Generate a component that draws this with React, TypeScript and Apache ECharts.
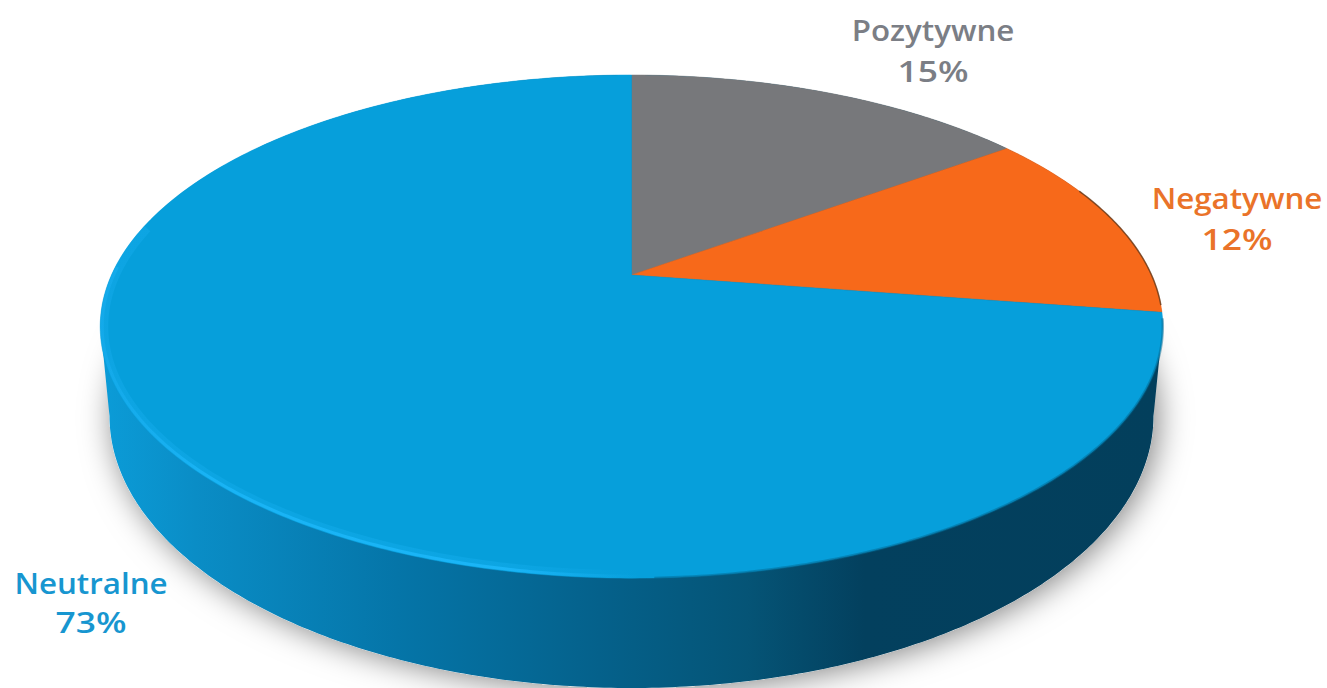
import React, { useEffect, useRef } from "react";
import * as echarts from "echarts";

const categories = ["Pozytywne", "Negatywne", "Neutralne"];
// shares estimated from the slice boundaries; the labels show them rounded
const values = [15, 12.4, 72.6];

const sliceColors = ["#77787b", "#f7691a", "#069fdb"];
const labelColors = ["#7b7e85", "#ea7329", "#1796d0"];
const labelCenters = [
  [933, 30, 70],
  [1237, 198, 238],
  [91, 583, 621],
];

// perspective projection of the pie's unit circle onto the page
const CX = 631.5;
const APEX_Y = 275;
const K = 0.205;
const SX = 520;
const SY = -241;
const project = (angle: number, r = 1): number[] => {
  const X = r * Math.sin(angle);
  const Y = r * Math.cos(angle);
  const d = 1 + K * Y;
  return [CX + (SX * X) / d, APEX_Y + (SY * Y) / d];
};
const arcPoints = (a0: number, a1: number, step = 0.01): number[][] => {
  const n = Math.max(2, Math.ceil(Math.abs(a1 - a0) / step));
  const pts: number[][] = [];
  for (let i = 0; i <= n; i++) pts.push(project(a0 + ((a1 - a0) * i) / n));
  return pts;
};
const deg = (d: number) => (d * Math.PI) / 180;

const TOP = { cy: 326.5, rx: 531, ry: 251.5 };
const BOTTOM = { cy: 416, rx: 522, ry: 272 };
const ellipsePts = (e: typeof TOP, a0: number, a1: number, n = 240): number[][] => {
  const pts: number[][] = [];
  for (let i = 0; i <= n; i++) {
    const t = a0 + ((a1 - a0) * i) / n;
    pts.push([CX + e.rx * Math.cos(t), e.cy + e.ry * Math.sin(t)]);
  }
  return pts;
};

const grad = (x0: number, x1: number, stops: [number, string][]) =>
  new echarts.graphic.LinearGradient(
    x0, 0, x1, 0,
    stops.map(([offset, color]) => ({ offset, color })),
    true
  );

const total = values.reduce((a, b) => a + b, 0);
const startShare = values.map((_, i) => values.slice(0, i).reduce((a, b) => a + b, 0) / total);

const renderBody = () => {
  const hull = [
    ...ellipsePts(BOTTOM, 0, Math.PI),
    ...ellipsePts(TOP, Math.PI, Math.PI * 2),
  ];
  return {
    type: "group",
    children: [
      {
        type: "polygon",
        shape: { points: ellipsePts(BOTTOM, 0, Math.PI * 2) },
        style: {
          fill: "#ffffff",
          shadowBlur: 32,
          shadowColor: "rgba(0,0,0,0.5)",
          shadowOffsetX: 4,
          shadowOffsetY: 2,
        },
      },
      {
        type: "polygon",
        shape: { points: hull },
        style: {
          fill: grad(100, 1162, [
            [0, "#0b9cd8"],
            [0.09, "#0a8dc6"],
            [0.28, "#0575a8"],
            [0.47, "#05618b"],
            [0.61, "#055476"],
            [0.72, "#03405e"],
            [1, "#033f5c"],
          ]),
        },
      },
    ],
  };
};

const renderSlice = (params: any, api: any) => {
  const i = params.dataIndex;
  const share = api.value(0) / total;
  const a0 = startShare[i] * Math.PI * 2;
  const a1 = a0 + share * Math.PI * 2;
  const pts = [[CX, APEX_Y], ...arcPoints(a0, a1)];
  return {
    type: "polygon",
    shape: { points: pts },
    style: { fill: sliceColors[i], stroke: sliceColors[i], lineWidth: 0.5 },
  };
};

const inset = (pts: number[][], dy: number) =>
  pts.map(([x, y]) => [x + (x < CX ? (dy * (CX - x)) / 531 : 0), y - (dy * (y - 326)) / 251]);

const renderRim = () => ({
  type: "group",
  children: [
    {
      type: "polyline",
      shape: { points: arcPoints(deg(68), deg(97)) },
      style: { fill: "none", stroke: "rgba(95,55,25,0.75)", lineWidth: 1.5 },
    },
    {
      type: "polyline",
      shape: { points: arcPoints(deg(100), deg(178)) },
      style: { fill: "none", stroke: "rgba(5,100,140,0.45)", lineWidth: 2.5 },
    },
    {
      type: "polyline",
      shape: { points: inset(arcPoints(deg(178), deg(282)), 4) },
      style: {
        fill: "none",
        lineWidth: 8,
        stroke: grad(100, 640, [
          [0, "rgba(30,178,245,0.3)"],
          [0.25, "rgba(27,180,246,0.28)"],
          [0.75, "rgba(29,182,248,0.28)"],
          [1, "rgba(29,182,248,0)"],
        ]),
      },
    },
    {
      type: "polyline",
      shape: { points: inset(arcPoints(deg(178), deg(272)), 2) },
      style: {
        fill: "none",
        lineWidth: 3,
        stroke: grad(100, 640, [
          [0, "rgba(30,178,245,0.35)"],
          [0.2, "rgba(27,182,248,0.85)"],
          [0.75, "rgba(29,184,250,0.85)"],
          [1, "rgba(29,182,248,0)"],
        ]),
      },
    },
  ],
});

const renderLabel = (params: any, api: any) => {
  const i = params.dataIndex;
  const [x, y1, y2] = labelCenters[i];
  const common = {
    fill: labelColors[i],
    fontFamily: "'Open Sans', sans-serif",
    fontWeight: 600,
    fontSize: 29,
    align: "center",
    verticalAlign: "middle",
  };
  return {
    type: "group",
    children: [
      { type: "text", x, y: y1, scaleX: 1.08, style: { ...common, text: categories[i] } },
      { type: "text", x, y: y2, scaleX: 1.22, style: { ...common, text: `${Math.round(api.value(0))}%` } },
    ],
  };
};

export default function App() {
  const ref = useRef<HTMLDivElement>(null);
  useEffect(() => {
    document.body.style.margin = "0";
    document.body.style.overflow = "hidden";
    const chart = echarts.init(ref.current!, undefined, { renderer: "svg" });
    chart.setOption({
      animation: false,
      backgroundColor: "#ffffff",
      series: [
        { type: "custom", coordinateSystem: "none", silent: true, data: [0], renderItem: renderBody, z: 1 },
        { type: "custom", coordinateSystem: "none", silent: true, data: values, renderItem: renderSlice, z: 2 },
        { type: "custom", coordinateSystem: "none", silent: true, data: [0], renderItem: renderRim, z: 3 },
        { type: "custom", coordinateSystem: "none", silent: true, data: values, renderItem: renderLabel, z: 4 },
      ],
    });
    return () => chart.dispose();
  }, []);
  return <div ref={ref} style={{ width: 1327, height: 688 }} />;
}
